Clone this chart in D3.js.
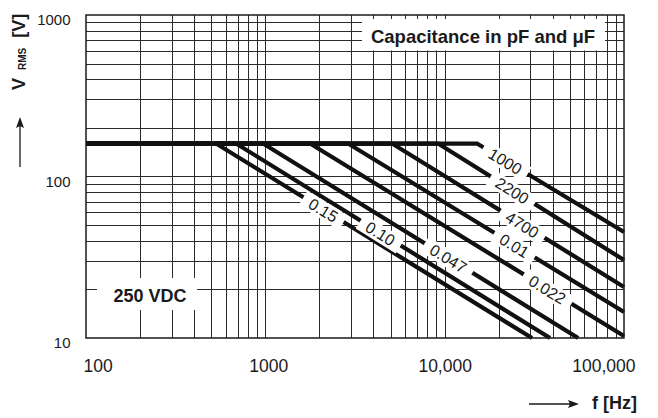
<!DOCTYPE html>
<html>
<head>
<meta charset="utf-8">
<script src="https://cdn.jsdelivr.net/npm/d3@7/dist/d3.min.js"></script>
<style>
  html, body { margin: 0; padding: 0; background: #fff; }
  svg { display: block; font-family: "Liberation Sans", Arial, Helvetica, sans-serif; }
</style>
</head>
<body>
<svg id="chart" width="658" height="418"></svg>
<script>
// ---- data ----
const capLabels  = ["0.15", "0.10", "0.047", "0.022", "0.01", "4700", "2200", "1000"];
const cornerFreq = [531, 687, 971, 1776, 2893, 5090, 9190, 15160];      // Hz where the curve leaves the flat part
const endFreq    = [30700, 38700, 55500, 100000, 100000, 100000, 100000, 100000];
const endVolt    = [10, 10, 10, 10.3, 14.5, 20.7, 30.4, 45.3];
const labelFreq  = [2100, 4370, 10450, 37240, 24380, 27030, 23770, 21730];
const flatVolt   = 160;
const startFreq  = 100;
const xTickValues = [100, 1000, 10000, 100000];
const xTickLabels = ["100", "1000", "10,000", "100,000"];
const yTickValues = [10, 100, 1000];
const yTickLabels = ["10", "100", "1000"];

// ---- layout ----
const L = 86, R = 624, T = 15, B = 338;
const svg = d3.select("#chart");
const x = d3.scaleLog().domain([100, 100000]).range([L, R]);
const y = d3.scaleLog().domain([10, 1000]).range([B, T]);
const ink = "#1a1a1a";

// ---- grid ----
const xGrid = [], yGrid = [];
for (let d = 100; d < 100000; d *= 10) for (let k = 1; k <= 9; k++) { const v = d * k; if (v > 100 && v < 100000) xGrid.push(v); }
for (let d = 10; d < 1000; d *= 10) for (let k = 1; k <= 9; k++) { const v = d * k; if (v > 10 && v < 1000) yGrid.push(v); }
const grid = svg.append("g").attr("stroke", "#2a2a2a").attr("stroke-width", 1);
grid.selectAll("line.v").data(xGrid).join("line")
  .attr("x1", d => Math.round(x(d)) + 0.5).attr("x2", d => Math.round(x(d)) + 0.5)
  .attr("y1", T).attr("y2", B);
grid.selectAll("line.h").data(yGrid).join("line")
  .attr("y1", d => Math.round(y(d)) + 0.5).attr("y2", d => Math.round(y(d)) + 0.5)
  .attr("x1", L).attr("x2", R);

// ---- curves ----
const series = capLabels.map((c, i) => ({
  label: c,
  pts: [[startFreq, flatVolt], [cornerFreq[i], flatVolt], [endFreq[i], endVolt[i]]],
  lf: labelFreq[i]
}));
const line = d3.line().x(d => x(d[0])).y(d => y(d[1]));
svg.append("g").selectAll("path").data(series).join("path")
  .attr("d", d => line(d.pts))
  .attr("fill", "none").attr("stroke", "#111").attr("stroke-width", 4.2)
  .attr("stroke-linejoin", "miter");

// ---- curve labels with white knock-out boxes ----
const lab = svg.append("g");
series.forEach(s => {
  const p1 = s.pts[1], p2 = s.pts[2];
  const t = (Math.log(s.lf) - Math.log(p1[0])) / (Math.log(p2[0]) - Math.log(p1[0]));
  const v = Math.exp(Math.log(p1[1]) + t * (Math.log(p2[1]) - Math.log(p1[1])));
  const px = x(s.lf), py = y(v) + 1;
  const ang = Math.atan2(y(p2[1]) - y(p1[1]), x(p2[0]) - x(p1[0])) * 180 / Math.PI;
  const g = lab.append("g").attr("transform", `translate(${px},${py}) rotate(${ang})`);
  const txt = g.append("text").text(s.label)
    .attr("text-anchor", "middle").attr("dominant-baseline", "central")
    .attr("font-size", 16).attr("fill", ink);
  const w = txt.node().getComputedTextLength();
  g.insert("rect", "text").attr("x", -w / 2 - 8).attr("y", -8.5).attr("width", w + 16).attr("height", 17).attr("fill", "#fff");
});

// ---- text boxes inside plot ----
svg.append("rect").attr("x", 362).attr("y", 19).attr("width", 243).attr("height", 31.5).attr("fill", "#fff");
svg.append("text").attr("x", 483).attr("y", 43).attr("text-anchor", "middle")
  .attr("font-size", 18.5).attr("font-weight", "bold").attr("fill", ink)
  .text("Capacitance in pF and \u03BCF");
svg.append("rect").attr("x", 97).attr("y", 278).attr("width", 100).attr("height", 32).attr("fill", "#fff");
svg.append("text").attr("x", 150).attr("y", 302).attr("text-anchor", "middle")
  .attr("font-size", 18).attr("font-weight", "bold").attr("fill", ink)
  .text("250 VDC");

// ---- frame ----
svg.append("rect").attr("x", L).attr("y", T).attr("width", R - L).attr("height", B - T)
  .attr("fill", "none").attr("stroke", ink).attr("stroke-width", 1.5);

// ---- axes ----
const xAxis = d3.axisBottom(x).tickValues(xTickValues)
  .tickFormat((d, i) => xTickLabels[i]).tickSizeInner(0).tickSizeOuter(0).tickPadding(21.6);
const gx = svg.append("g").attr("transform", `translate(0,${B})`).call(xAxis);
gx.select(".domain").remove();
gx.selectAll("text").attr("font-size", 17.5).attr("fill", ink).attr("font-family", null);
gx.selectAll(".tick text").each(function (d, i) {
  const el = d3.select(this);
  if (i === 0) el.attr("text-anchor", "start").attr("dx", -3);
  else if (i === xTickValues.length - 1) el.attr("text-anchor", "end").attr("dx", 11);
  else if (i === 1) el.attr("dx", 3);
});

const yAxis = d3.axisLeft(y).tickValues(yTickValues)
  .tickFormat((d, i) => yTickLabels[i]).tickSizeInner(0).tickSizeOuter(0).tickPadding(15.5);
const gy = svg.append("g").attr("transform", `translate(${L},0)`).call(yAxis);
gy.select(".domain").remove();
gy.selectAll("text").attr("font-size", 15).attr("fill", ink).attr("font-family", null).attr("dy", "0.65em");

// ---- axis titles ----
const yt = svg.append("text").attr("transform", "translate(25,90) rotate(-90)")
  .attr("font-weight", "bold").attr("fill", ink);
yt.append("tspan").attr("font-size", 18).text("V");
yt.append("tspan").attr("font-size", 10).attr("dx", 8).attr("dy", 1).text("RMS");
yt.append("tspan").attr("font-size", 18).attr("dx", 10).attr("dy", -1).text("[V]");

svg.append("text").attr("x", 592).attr("y", 409).attr("font-size", 18)
  .attr("font-weight", "bold").attr("fill", ink).text("f [Hz]");

// arrows
svg.append("line").attr("x1", 20).attr("x2", 20).attr("y1", 167).attr("y2", 126)
  .attr("stroke", ink).attr("stroke-width", 1.3);
svg.append("path").attr("d", "M20,117 L24,128 L20,126 L16,128 Z").attr("fill", ink);
svg.append("line").attr("x1", 529).attr("x2", 570).attr("y1", 404).attr("y2", 404)
  .attr("stroke", ink).attr("stroke-width", 1.3);
svg.append("path").attr("d", "M579,404 L568,400 L570,404 L568,408 Z").attr("fill", ink);
</script>
</body>
</html>
